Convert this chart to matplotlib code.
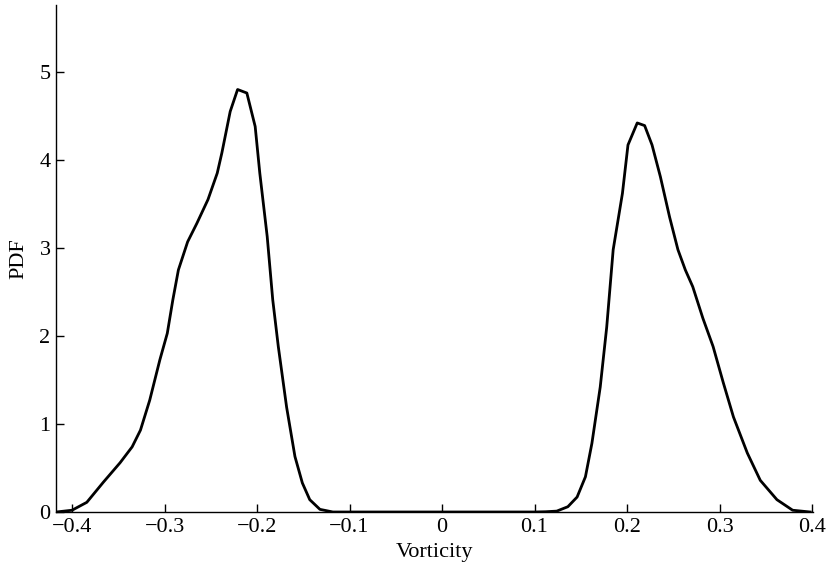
import numpy as np
from matplotlib import pyplot as plt

# vorticity values and PDF
vorticity = [
    -0.417, -0.400, -0.384, -0.366, -0.348, -0.335, -0.326, -0.316, -0.305,
    -0.297, -0.291, -0.285, -0.275, -0.265, -0.253, -0.243, -0.238, -0.229,
    -0.221, -0.211, -0.202, -0.197, -0.189, -0.183, -0.177, -0.168, -0.159,
    -0.151, -0.143, -0.132, -0.118, -0.100, -0.050, 0.000, 0.050, 0.100,
    0.112, 0.124, 0.136, 0.146, 0.155, 0.162, 0.171, 0.178, 0.185, 0.195,
    0.201, 0.211, 0.219, 0.227, 0.236, 0.246, 0.255, 0.263, 0.271, 0.282,
    0.293, 0.304, 0.315, 0.330, 0.344, 0.362, 0.379, 0.398,
]
pdf = [
    0.00, 0.02, 0.11, 0.34, 0.56, 0.74, 0.93, 1.27, 1.73,
    2.03, 2.41, 2.75, 3.07, 3.28, 3.55, 3.85, 4.08, 4.55,
    4.80, 4.76, 4.38, 3.85, 3.13, 2.41, 1.88, 1.19, 0.63,
    0.33, 0.14, 0.03, 0.00, 0.00, 0.00, 0.00, 0.00, 0.00,
    0.003, 0.01, 0.06, 0.17, 0.40, 0.78, 1.42, 2.10, 2.98, 3.62,
    4.17, 4.42, 4.39, 4.17, 3.81, 3.35, 2.98, 2.75, 2.56, 2.20,
    1.88, 1.47, 1.08, 0.67, 0.36, 0.14, 0.02, 0.00,
]
xticks = [-0.4, -0.3, -0.2, -0.1, 0, 0.1, 0.2, 0.3, 0.4]
xtick_labels = ["\u22120.4", "\u22120.3", "\u22120.2", "\u22120.1", "0",
                "0.1", "0.2", "0.3", "0.4"]
yticks = [0, 1, 2, 3, 4, 5]

plt.rcParams["font.family"] = ["Liberation Serif", "DejaVu Serif"]

fig = plt.figure(figsize=(8.28, 5.72), dpi=100)
ax = fig.add_axes([56 / 828, 60 / 572, 757 / 828, 507 / 572])
ax.plot(vorticity, pdf, color="black", linewidth=2)

ax.set_xlim(-0.4173, 0.401)
ax.set_ylim(0, 5.76)
ax.set_xticks(xticks)
ax.set_xticklabels(xtick_labels)
ax.set_yticks(yticks)
ax.tick_params(direction="in", length=5.5, width=1, labelsize=16, pad=4)
for side in ["top", "right"]:
    ax.spines[side].set_visible(False)
for side in ["left", "bottom"]:
    ax.spines[side].set_linewidth(1)

ax.set_xlabel("Vorticity", fontsize=16, labelpad=5)
ax.set_ylabel("PDF", fontsize=16, labelpad=8)

fig.savefig("out.png", dpi=100)
